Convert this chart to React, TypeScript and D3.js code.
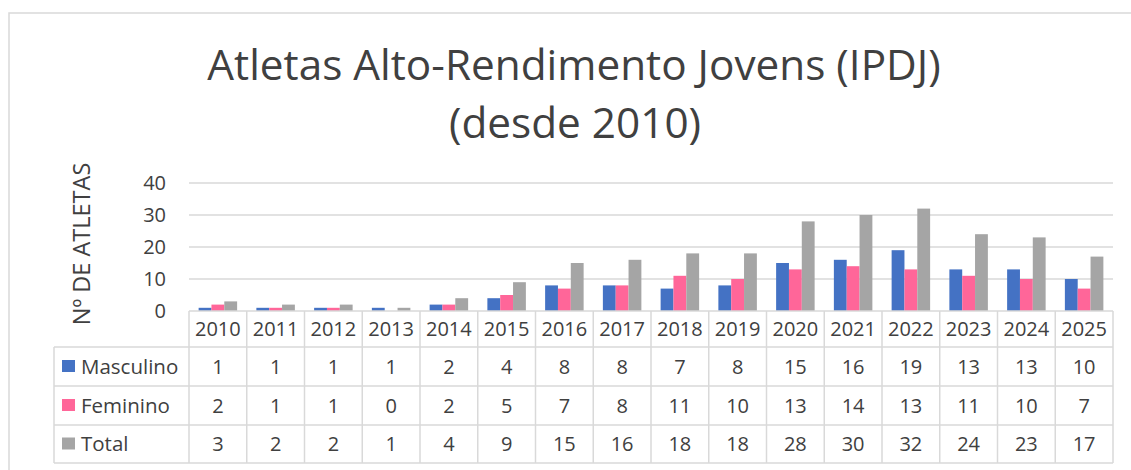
import * as d3 from "d3";

const years = ["2010", "2011", "2012", "2013", "2014", "2015", "2016", "2017", "2018", "2019", "2020", "2021", "2022", "2023", "2024", "2025"];
const masculino = [1, 1, 1, 1, 2, 4, 8, 8, 7, 8, 15, 16, 19, 13, 13, 10];
const feminino = [2, 1, 1, 0, 2, 5, 7, 8, 11, 10, 13, 14, 13, 11, 10, 7];
const total = [3, 2, 2, 1, 4, 9, 15, 16, 18, 18, 28, 30, 32, 24, 23, 17];
const yTicks = [0, 10, 20, 30, 40];
const seriesNames = ["Masculino", "Feminino", "Total"];
const seriesColors = ["#4472C4", "#FF6699", "#A5A5A5"];

const W = 1131;
const H = 470;
const font = "'Open Sans', sans-serif";
const textColor = "#404040";
const lineColor = "#D9D9D9";

export default function App() {
  const plot = { left: 189, right: 1113, top: 183, bottom: 311 };
  const tableLeft = 54;
  const rowH = [36, 39, 39, 38];

  const x = d3.scaleBand<string>().domain(years).range([plot.left, plot.right]).padding(0);
  const bw = x.bandwidth();
  // Excel gap width 150%: category = 3 bars + 1.5 bar
  const barW = bw / 4.5;
  const inner = d3
    .scaleBand<string>()
    .domain(seriesNames)
    .range([(bw - 3 * barW) / 2, (bw + 3 * barW) / 2])
    .padding(0);
  const y = d3.scaleLinear().domain([0, 40]).range([plot.bottom, plot.top]);

  const series = [masculino, feminino, total];

  const rowTops: number[] = [];
  let acc = plot.bottom;
  rowH.forEach((h) => {
    rowTops.push(acc);
    acc += h;
  });
  const tableBottom = acc;

  return (
    <svg width={W} height={H} style={{ position: "absolute", left: 0, top: 0, background: "#fff" }}>
      <rect x={9} y={13} width={W} height={H} fill="#fff" stroke={lineColor} strokeWidth={1.5} />

      <text x={574} y={80} textAnchor="middle" fontFamily={font} fontSize={42.3} fill={textColor}>
        Atletas Alto-Rendimento Jovens (IPDJ)
      </text>
      <text x={575} y={138} textAnchor="middle" fontFamily={font} fontSize={42.3} fill={textColor}>
        (desde 2010)
      </text>

      <text
        transform={`translate(90,244) rotate(-90)`}
        textAnchor="middle"
        fontFamily={font}
        fontSize={23.5}
        fill={textColor}
      >
        Nº DE ATLETAS
      </text>

      {yTicks.map((t) => (
        <g key={t}>
          {t > 0 && (
            <line x1={plot.left} x2={plot.right} y1={y(t)} y2={y(t)} stroke={lineColor} strokeWidth={1.5} />
          )}
          <text x={166} y={y(t)} dy="0.35em" textAnchor="end" fontFamily={font} fontSize={20} fill={textColor}>
            {t}
          </text>
        </g>
      ))}

      {years.map((yr, i) => (
        <g key={yr} transform={`translate(${x(yr)},0)`}>
          {seriesNames.map((s, k) => (
            <rect
              key={s}
              x={inner(s)}
              y={y(series[k][i])}
              width={inner.bandwidth()}
              height={plot.bottom - y(series[k][i])}
              fill={seriesColors[k]}
            />
          ))}
        </g>
      ))}

      {/* data table */}
      <line x1={plot.left} x2={plot.right} y1={plot.bottom} y2={plot.bottom} stroke={lineColor} strokeWidth={1.5} />
      {rowTops.slice(1).map((ry) => (
        <line key={ry} x1={tableLeft} x2={plot.right} y1={ry} y2={ry} stroke={lineColor} strokeWidth={1.5} />
      ))}
      <line x1={tableLeft} x2={plot.right} y1={tableBottom} y2={tableBottom} stroke={lineColor} strokeWidth={1.5} />
      <line x1={tableLeft} x2={tableLeft} y1={rowTops[1]} y2={tableBottom} stroke={lineColor} strokeWidth={1.5} />
      {years.map((yr) => (
        <line
          key={yr}
          x1={x(yr)}
          x2={x(yr)}
          y1={plot.bottom}
          y2={tableBottom}
          stroke={lineColor}
          strokeWidth={1.5}
        />
      ))}
      <line x1={plot.right} x2={plot.right} y1={plot.bottom} y2={tableBottom} stroke={lineColor} strokeWidth={1.5} />

      {years.map((yr) => (
        <text
          key={yr}
          x={(x(yr) ?? 0) + bw / 2}
          y={rowTops[0] + rowH[0] / 2}
          dy="0.35em"
          textAnchor="middle"
          fontFamily={font}
          fontSize={20}
          fill={textColor}
        >
          {yr}
        </text>
      ))}

      {seriesNames.map((s, k) => {
        const cy = rowTops[k + 1] + rowH[k + 1] / 2;
        return (
          <g key={s}>
            <rect x={62} y={cy - 6.5} width={13} height={12} fill={seriesColors[k]} />
            <text x={81} y={cy} dy="0.35em" fontFamily={font} fontSize={20.5} fill={textColor}>
              {s}
            </text>
            {years.map((yr, i) => (
              <text
                key={yr}
                x={(x(yr) ?? 0) + bw / 2}
                y={cy}
                dy="0.35em"
                textAnchor="middle"
                fontFamily={font}
                fontSize={20}
                fill={textColor}
              >
                {series[k][i]}
              </text>
            ))}
          </g>
        );
      })}
    </svg>
  );
}
